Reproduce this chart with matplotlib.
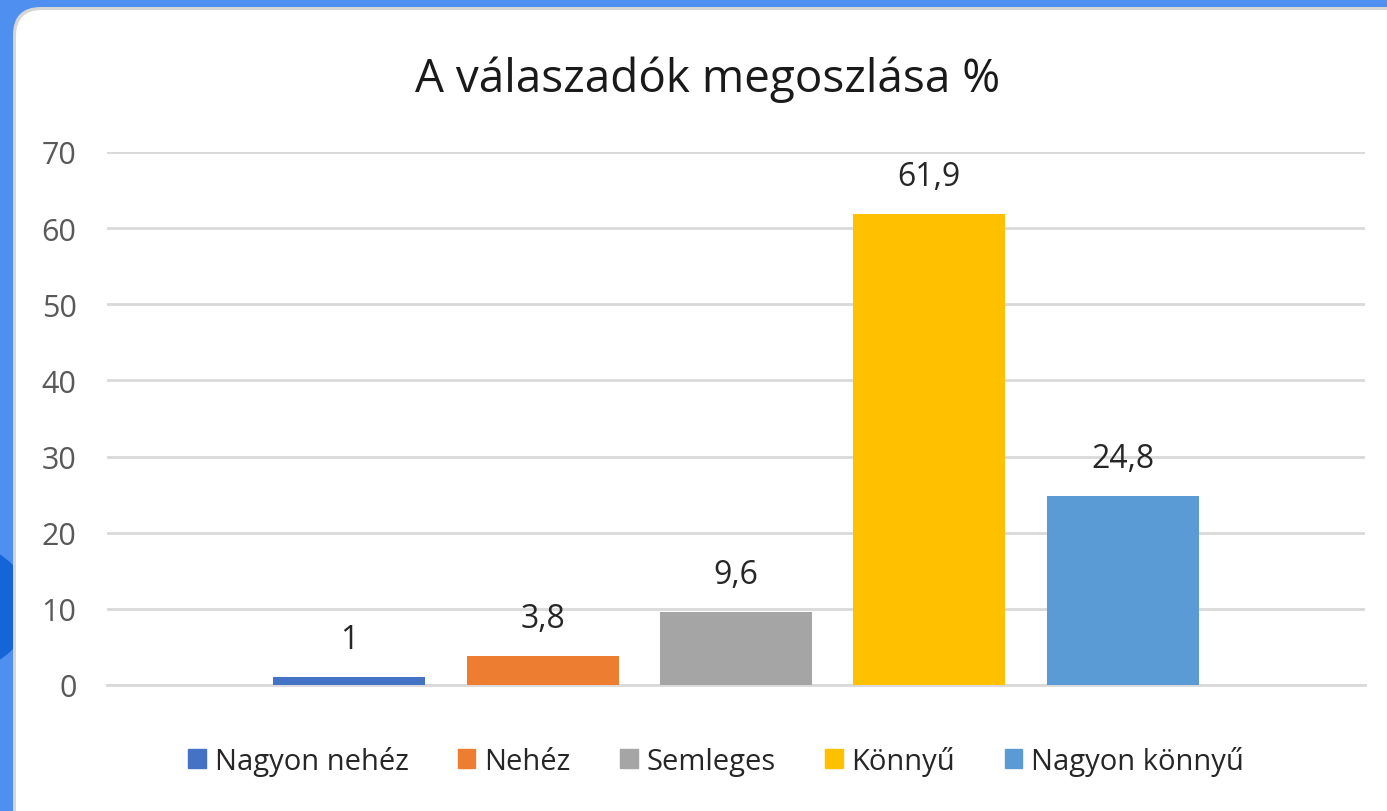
import matplotlib
matplotlib.use("Agg")
import matplotlib.pyplot as plt
from matplotlib.patches import FancyBboxPatch, Ellipse, Rectangle

categories = ["Nagyon nehéz", "Nehéz", "Semleges", "Könnyű", "Nagyon könnyű"]
values = [1, 3.8, 9.6, 61.9, 24.8]
labels = ["1", "3,8", "9,6", "61,9", "24,8"]
colors = ["#4472C4", "#ED7D31", "#A5A5A5", "#FFC000", "#5B9BD5"]
yticks = [0, 10, 20, 30, 40, 50, 60, 70]
title = "A válaszadók megoszlása %"

W, H = 1387, 812
fig = plt.figure(figsize=(W / 100, H / 100), dpi=100)
fig.patch.set_facecolor("#4F8FEF")

# dark blue blob on left
fig.patches.append(Ellipse((-40, H - 608), 140, 128, transform=None,
                           facecolor="#1565D8", edgecolor="none", zorder=0))
# shadow
fig.patches.append(FancyBboxPatch((13, -40), W + 40, H - 8 + 40,
                                  boxstyle="round,pad=0,rounding_size=28",
                                  transform=None, facecolor="#D6D6D6",
                                  edgecolor="none", zorder=1))
# white panel
fig.patches.append(FancyBboxPatch((16, -40), W + 40, H - 11 + 40,
                                  boxstyle="round,pad=0,rounding_size=26",
                                  transform=None, facecolor="white",
                                  edgecolor="none", zorder=2))

ax = fig.add_axes([107 / W, (H - 686) / H, 1258 / W, 533 / H])
ax.set_zorder(5)
ax.patch.set_alpha(0)
x = list(range(len(categories)))
bars = ax.bar(x, values, width=0.787, color=colors, zorder=3)
for b, lab in zip(bars, labels):
    ax.text(b.get_x() + b.get_width() / 2, b.get_height() + 3.8, lab,
            ha="center", va="baseline", fontsize=23, color="#262626",
            family="Open Sans")
ax.set_xlim(-1.254, 5.254)
ax.set_ylim(0, 70)
ax.set_yticks(yticks)
ax.set_yticklabels([str(t) for t in yticks], fontsize=22, color="#595959",
                   family="Open Sans")
ax.set_xticks([])
ax.tick_params(axis="y", length=0, pad=22)
ax.grid(axis="y", color="#D9D9D9", linewidth=2, zorder=0)
for s in ["top", "right", "left"]:
    ax.spines[s].set_visible(False)
ax.spines["bottom"].set_color("#D9D9D9")
ax.spines["bottom"].set_linewidth(2)

fig.text(708 / W, 1 - 92 / H, title, ha="center", va="baseline", fontsize=33,
         color="#1a1a1a", family="Open Sans")

handles = [Rectangle((0, 0), 1, 1, color=c) for c in colors]
leg = fig.legend(handles, categories, loc="center", bbox_to_anchor=(716 / W, 1 - 762 / H),
                 ncol=5, frameon=False, handlelength=0.6, handleheight=0.6,
                 handletextpad=0.3, columnspacing=1.7,
                 prop={"family": "Open Sans", "size": 21})
for t in leg.get_texts():
    t.set_color("#262626")

fig.savefig("out.png", dpi=100)
